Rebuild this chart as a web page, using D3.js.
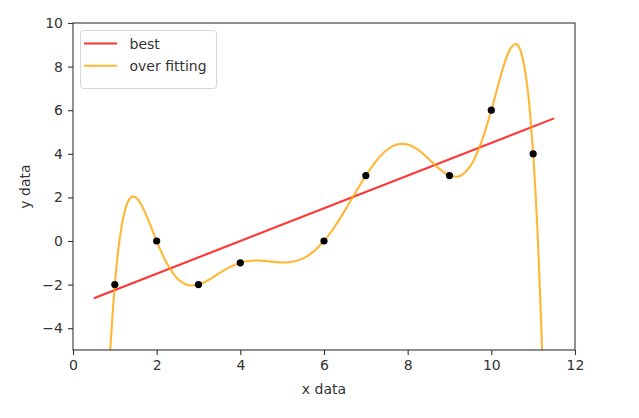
<!DOCTYPE html>
<html>
<head>
<meta charset="utf-8">
<script src="https://cdn.jsdelivr.net/npm/d3@7"></script>
<style>
  html, body { margin: 0; padding: 0; background: #fff; }
  text { font-family: "DejaVu Sans", sans-serif; }
</style>
</head>
<body>
<svg id="chart" width="639" height="418"></svg>
<script>
// ---- data ----
const pointX = [1, 2, 3, 4, 6, 7, 9, 10, 11];
const pointY = [-2, 0, -2, -1, 0, 3, 3, 6, 4];

const bestX = [0.5, 11.5];
const bestY = [-2.625, 5.625];

const overX = [0.85, 0.9, 0.95, 1.0, 1.05, 1.1, 1.2, 1.3, 1.4, 1.5, 1.6, 1.7, 1.8, 1.9, 2.0, 2.1, 2.25, 2.5, 2.75,
  3.0, 3.25, 3.5, 3.75, 4.0, 4.25, 4.5, 4.75, 5.0, 5.25, 5.5, 5.75, 6.0, 6.25, 6.5, 6.75, 7.0, 7.25, 7.5, 7.75,
  8.0, 8.25, 8.5, 8.75, 9.0, 9.25, 9.5, 9.75, 10.0, 10.25, 10.4, 10.5, 10.6, 10.7, 10.75, 10.8, 10.9, 11.0,
  11.05, 11.1, 11.15, 11.2, 11.25];
const overY = [-6.457, -4.719, -3.242, -2, -0.970, -0.128, 1.071, 1.745, 2.019, 1.999, 1.770, 1.404, 0.959, 0.479, 0, -0.453, -1.046, -1.731, -2.024,
  -2, -1.778, -1.478, -1.198, -1, -0.906, -0.901, -0.946, -0.983, -0.951, -0.797, -0.484, 0, 0.642, 1.401, 2.213, 3, 3.679, 4.173, 4.427,
  4.423, 4.179, 3.772, 3.322, 3, 2.983, 3.441, 4.472, 6, 7.747, 8.614, 8.936, 9.031, 8.733, 8.359, 7.886, 6.406, 4,
  2.423, 0.597, -1.672, -4.245, -7.293];

const xTicks = [0, 2, 4, 6, 8, 10, 12];
const yTicks = [-4, -2, 0, 2, 4, 6, 8, 10];
const seriesNames = ["best", "over fitting"];
const seriesColors = ["rgba(255,0,0,0.8)", "rgba(255,165,0,0.8)"];

// ---- layout ----
const svg = d3.select("#chart");
const mLeft = 73, mRight = 575, mTop = 23, mBottom = 350;

const x = d3.scaleLinear().domain([0, 12]).range([mLeft, mRight]);
const y = d3.scaleLinear().domain([-5, 10]).range([mBottom, mTop]);

svg.append("defs").append("clipPath").attr("id", "clip")
  .append("rect").attr("x", mLeft).attr("y", mTop).attr("width", mRight - mLeft).attr("height", mBottom - mTop);

const plot = svg.append("g").attr("clip-path", "url(#clip)");

const straight = d3.line().x(d => x(d[0])).y(d => y(d[1]));
const smooth = d3.line().x(d => x(d[0])).y(d => y(d[1])).curve(d3.curveCatmullRom.alpha(0.5));

// best line
plot.append("path")
  .datum(bestX.map((v, i) => [v, bestY[i]]))
  .attr("d", straight)
  .attr("fill", "none")
  .attr("stroke", seriesColors[0])
  .attr("stroke-width", 2.1);

// over fitting curve
plot.append("path")
  .datum(overX.map((v, i) => [v, overY[i]]))
  .attr("d", smooth)
  .attr("fill", "none")
  .attr("stroke", seriesColors[1])
  .attr("stroke-width", 2.1);

// points
plot.selectAll("circle.pt")
  .data(pointX.map((v, i) => [v, pointY[i]]))
  .enter().append("circle")
  .attr("class", "pt")
  .attr("cx", d => x(d[0]))
  .attr("cy", d => y(d[1]))
  .attr("r", 3.6)
  .attr("fill", "#000");

// axes
const xAxis = d3.axisBottom(x).tickValues(xTicks).tickSize(5).tickPadding(5)
  .tickFormat(d3.format("d"));
const yAxis = d3.axisLeft(y).tickValues(yTicks).tickSize(5).tickPadding(5)
  .tickFormat(d => d < 0 ? "\u2212" + Math.abs(d) : String(d));

const gx = svg.append("g").attr("transform", `translate(0,${mBottom})`).call(xAxis);
const gy = svg.append("g").attr("transform", `translate(${mLeft},0)`).call(yAxis);
[gx, gy].forEach(g => {
  g.select(".domain").remove();
  g.selectAll(".tick line").attr("stroke", "#333").attr("stroke-width", 1.1);
  g.selectAll(".tick text").attr("fill", "#333").style("font-size", "14px")
    .style("font-family", "DejaVu Sans, sans-serif");
});

// frame
svg.append("rect")
  .attr("x", mLeft).attr("y", mTop)
  .attr("width", mRight - mLeft).attr("height", mBottom - mTop)
  .attr("fill", "none").attr("stroke", "#333").attr("stroke-width", 1.1);

// axis labels
svg.append("text").attr("x", (mLeft + mRight) / 2).attr("y", 394)
  .attr("text-anchor", "middle").attr("fill", "#333").style("font-size", "14px").text("x data");
svg.append("text").attr("transform", `translate(30,${(mTop + mBottom) / 2}) rotate(-90)`)
  .attr("text-anchor", "middle").attr("fill", "#333").style("font-size", "14px").text("y data");

// legend
const lg = svg.append("g");
lg.append("rect").attr("x", 80.5).attr("y", 30.5).attr("width", 136).attr("height", 58)
  .attr("rx", 3).attr("fill", "rgba(255,255,255,0.8)").attr("stroke", "#d6d6d6").attr("stroke-width", 1);
seriesNames.forEach((name, i) => {
  const yy = 43.5 + i * 22.3;
  lg.append("line").attr("x1", 84).attr("x2", 117).attr("y1", yy).attr("y2", yy)
    .attr("stroke", seriesColors[i]).attr("stroke-width", 2.1);
  lg.append("text").attr("x", 129.5).attr("y", yy + 5).attr("fill", "#333")
    .style("font-size", "14px").text(name);
});
</script>
</body>
</html>
